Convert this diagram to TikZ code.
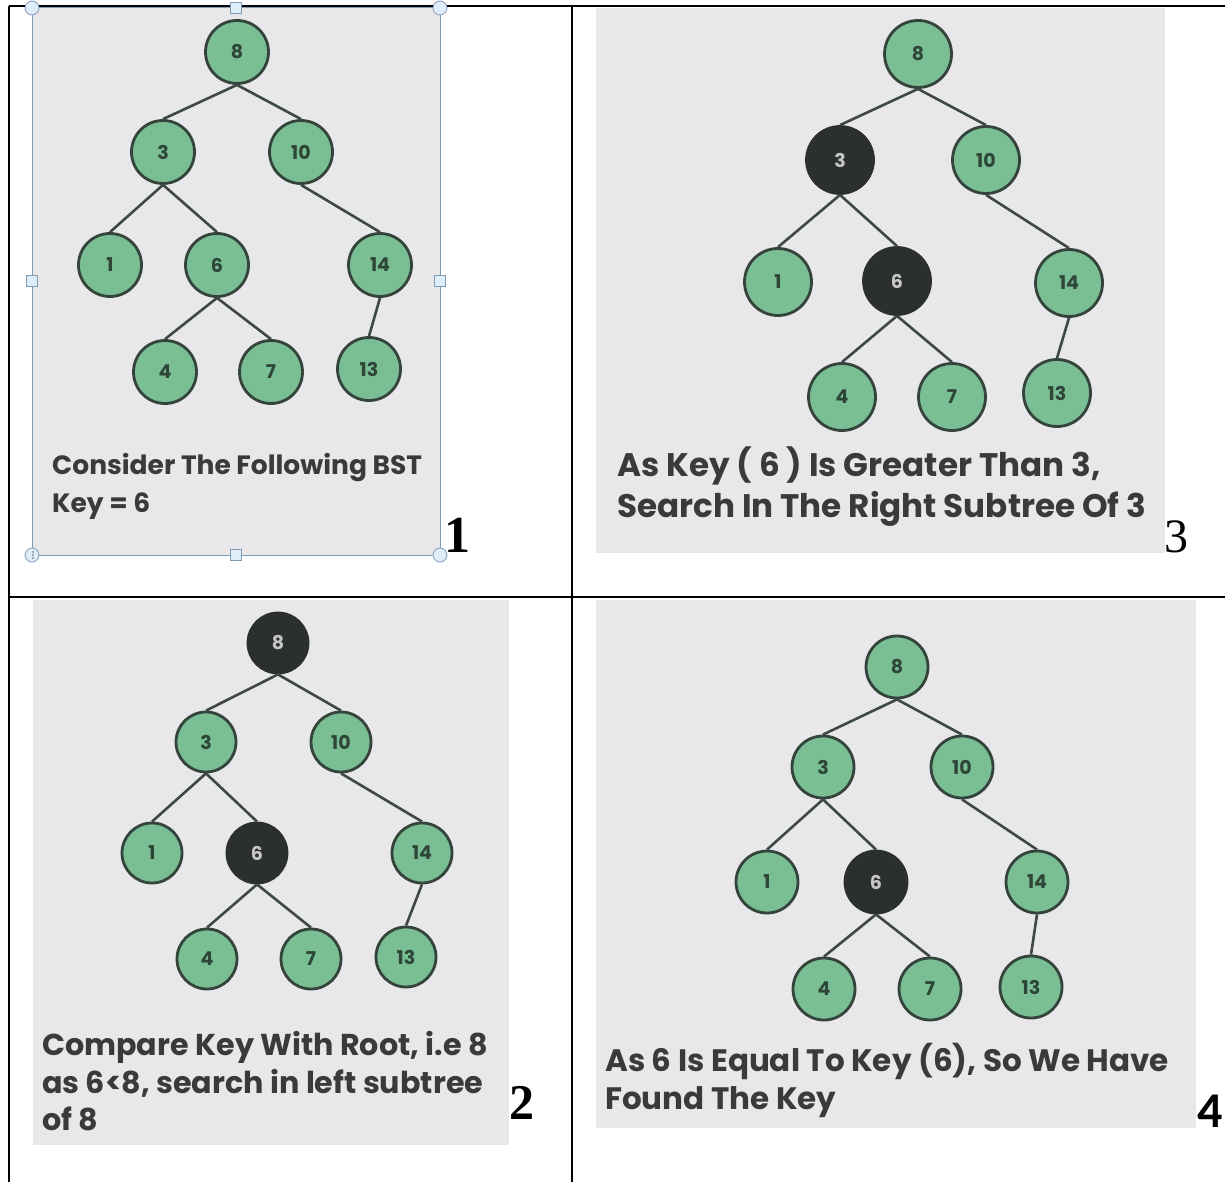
\documentclass[tikz,border=0pt]{standalone}
\usepackage{fontspec}
\setmainfont{Liberation Serif}
\newfontfamily\pop{Poppins}
\newfontfamily\carl{Carlito}
\usetikzlibrary{positioning}
\definecolor{nodegreen}{RGB}{122,190,148}
\definecolor{nodeborder}{RGB}{52,68,60}
\definecolor{darknode}{RGB}{43,48,45}
\definecolor{numtxt}{RGB}{45,70,56}
\definecolor{panelgray}{RGB}{232,232,234}
\definecolor{edgecol}{RGB}{62,72,68}
\definecolor{captxt}{RGB}{58,58,60}
\definecolor{selframe}{RGB}{130,155,180}
\definecolor{handlefill}{RGB}{222,237,248}
\tikzset{
  bst/.style={circle, inner sep=0pt, draw=nodeborder, line width=2.8pt, fill=nodegreen,
    text=numtxt, font=\pop\bfseries\fontsize{19}{19}\selectfont},
  hitnode/.style={fill=darknode, draw=darknode, text=gray!45},
  ra/.style={minimum size=63pt},
  rb/.style={minimum size=60pt},
  rc/.style={minimum size=67pt},
  rd/.style={minimum size=62pt},
  bstedge/.style={draw=edgecol, line width=2.6pt},
  tablerule/.style={draw=black, line width=1.6pt},
  captext/.style={anchor=base west, inner sep=0pt, text=captxt},
  sizea/.style={font=\pop\bfseries\fontsize{26.5}{26.5}\selectfont},
  sizeb/.style={font=\pop\bfseries\fontsize{30.2}{30.2}\selectfont},
  sizec/.style={font=\pop\bfseries\fontsize{32.6}{32.6}\selectfont},
  sized/.style={font=\pop\bfseries\fontsize{31}{31}\selectfont},
  numlab/.style={anchor=base west, inner sep=0pt, text=black},
  sqhandle/.style={rectangle, draw=selframe, fill=handlefill, line width=0.8pt, minimum size=11pt, inner sep=0pt},
  cihandle/.style={circle, draw=selframe, fill=handlefill, line width=0.8pt, minimum size=14pt, inner sep=0pt},
}
\begin{document}
\begin{tikzpicture}[x=1pt,y=-1pt]
\useasboundingbox (0,0) rectangle (1225,1182);
\fill[white] (0,0) rectangle (1225,1182);
% panel backgrounds
\fill[panelgray] (32,8) rectangle (440,555);
\fill[panelgray] (596,8) rectangle (1165,553);
\fill[panelgray] (33,600) rectangle (509,1145);
\fill[panelgray] (596,600) rectangle (1196,1128);
% table grid
\coordinate (gtl) at (9,6);
\coordinate (gtr) at (1225,6);
\coordinate (gbl) at (9,1182);
\coordinate (gtm) at (572,6);
\coordinate (gbm) at (572,1182);
\coordinate (gml) at (9,597);
\coordinate (gmr) at (1225,597);
\draw[tablerule] (gtl) -- (gtr);
\draw[tablerule] (gtl) -- (gbl);
\draw[tablerule] (gtm) -- (gbm);
\draw[tablerule] (gml) -- (gmr);
% selection frame of panel 1
\draw[selframe, line width=1pt] (32,8) rectangle (440,555);
\node[cihandle] (h1) at (32,8) {};
\node[sqhandle] (h2) at (236,8) {};
\node[cihandle] (h3) at (440,8) {};
\node[sqhandle] (h4) at (32,281) {};
\node[sqhandle] (h5) at (440,281) {};
\node[cihandle] (h6) at (32,555) {};
\node[sqhandle] (h7) at (236,555) {};
\node[cihandle] (h8) at (440,555) {};
\foreach \dy in {-3,0,3} \fill[selframe!60!black] (33,555+\dy) circle (0.8pt);

% ---------- panel 1 ----------
\node[bst,ra] (a8) at (237,52) {8};
\node[bst,ra] (a3) at (163,152) {3};
\node[bst,ra] (a10) at (301,152) {10};
\node[bst,ra] (a1) at (110,265) {1};
\node[bst,ra] (a6) at (217,265) {6};
\node[bst,ra] (a14) at (380,265) {14};
\node[bst,ra] (a4) at (165,372) {4};
\node[bst,ra] (a7) at (271,372) {7};
\node[bst,ra] (a13) at (369,369) {13};
\draw[bstedge] (a8.south) -- (a3.north);
\draw[bstedge] (a8.south) -- (a10.north);
\draw[bstedge] (a3.south) -- (a1.north);
\draw[bstedge] (a3.south) -- (a6.north);
\draw[bstedge] (a10.south) -- (a14.north);
\draw[bstedge] (a6.south) -- (a4.north);
\draw[bstedge] (a6.south) -- (a7.north);
\draw[bstedge] (a14.south) -- (a13.north);
\node[captext,sizea] (t1a) at (52,474) {Consider The Following BST};
\node[captext,sizea] (t1b) at (52,512) {Key = 6};
\node[numlab, font=\bfseries\fontsize{52}{52}\selectfont] (l1) at (444,552) {1};

% ---------- panel 3 ----------
\node[bst,rc] (c8) at (918,54) {8};
\node[bst,rc,hitnode] (c3) at (840,160) {3};
\node[bst,rc] (c10) at (986,160) {10};
\node[bst,rc] (c1) at (778,282) {1};
\node[bst,rc,hitnode] (c6) at (897,281) {6};
\node[bst,rc] (c14) at (1069,283) {14};
\node[bst,rc] (c4) at (842,397) {4};
\node[bst,rc] (c7) at (952,397) {7};
\node[bst,rc] (c13) at (1057,393) {13};
\draw[bstedge] (c8.south) -- (c3.north);
\draw[bstedge] (c8.south) -- (c10.north);
\draw[bstedge] (c3.south) -- (c1.north);
\draw[bstedge] (c3.south) -- (c6.north);
\draw[bstedge] (c10.south) -- (c14.north);
\draw[bstedge] (c6.south) -- (c4.north);
\draw[bstedge] (c6.south) -- (c7.north);
\draw[bstedge] (c14.south) -- (c13.north);
\node[captext,sizec] (t3a) at (617,476) {As Key ( 6 ) Is Greater Than 3,};
\node[captext,sizec] (t3b) at (617,517) {Search In The Right Subtree Of 3};
\node[numlab, font=\fontsize{48}{48}\selectfont] (l3) at (1164,552) {3};

% ---------- panel 2 ----------
\node[bst,rb,hitnode] (b8) at (278,643) {8};
\node[bst,rb] (b3) at (206,742) {3};
\node[bst,rb] (b10) at (341,742) {10};
\node[bst,rb] (b1) at (152,853) {1};
\node[bst,rb,hitnode] (b6) at (257,853) {6};
\node[bst,rb] (b14) at (422,853) {14};
\node[bst,rb] (b4) at (207,959) {4};
\node[bst,rb] (b7) at (311,959) {7};
\node[bst,rb] (b13) at (406,957) {13};
\draw[bstedge] (b8.south) -- (b3.north);
\draw[bstedge] (b8.south) -- (b10.north);
\draw[bstedge] (b3.south) -- (b1.north);
\draw[bstedge] (b3.south) -- (b6.north);
\draw[bstedge] (b10.south) -- (b14.north);
\draw[bstedge] (b6.south) -- (b4.north);
\draw[bstedge] (b6.south) -- (b7.north);
\draw[bstedge] (b14.south) -- (b13.north);
\node[captext,sizeb] (t2a) at (42,1055) {Compare Key With Root, i.e 8};
\node[captext,sizeb] (t2b) at (42,1093) {as 6<8, search in left subtree};
\node[captext,sizeb] (t2c) at (42,1130) {of 8};
\node[numlab, font=\bfseries\fontsize{50}{50}\selectfont] (l2) at (509,1119) {2};

% ---------- panel 4 ----------
\node[bst,rd] (d8) at (897,667) {8};
\node[bst,rd] (d3) at (823,767) {3};
\node[bst,rd] (d10) at (962,767) {10};
\node[bst,rd] (d1) at (767,882) {1};
\node[bst,rd,hitnode] (d6) at (876,882) {6};
\node[bst,rd] (d14) at (1037,882) {14};
\node[bst,rd] (d4) at (824,989) {4};
\node[bst,rd] (d7) at (930,989) {7};
\node[bst,rd] (d13) at (1031,987) {13};
\draw[bstedge] (d8.south) -- (d3.north);
\draw[bstedge] (d8.south) -- (d10.north);
\draw[bstedge] (d3.south) -- (d1.north);
\draw[bstedge] (d3.south) -- (d6.north);
\draw[bstedge] (d10.south) -- (d14.north);
\draw[bstedge] (d6.south) -- (d4.north);
\draw[bstedge] (d6.south) -- (d7.north);
\draw[bstedge] (d14.south) -- (d13.north);
\node[captext,sized] (t4a) at (605,1071) {As 6 Is Equal To Key (6), So We Have};
\node[captext,sized] (t4b) at (605,1109) {Found The Key};
\node[numlab, font=\carl\bfseries\fontsize{50}{50}\selectfont] (l4) at (1197,1127) {4};
\end{tikzpicture}
\end{document}
